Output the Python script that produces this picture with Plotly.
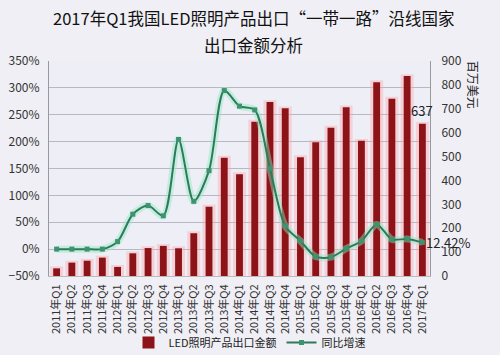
import plotly.graph_objects as go

quarters = ["2011年Q1","2011年Q2","2011年Q3","2011年Q4",
            "2012年Q1","2012年Q2","2012年Q3","2012年Q4",
            "2013年Q1","2013年Q2","2013年Q3","2013年Q4",
            "2014年Q1","2014年Q2","2014年Q3","2014年Q4",
            "2015年Q1","2015年Q2","2015年Q3","2015年Q4",
            "2016年Q1","2016年Q2","2016年Q3","2016年Q4",
            "2017年Q1"]
export_value = [32, 56, 64, 77, 38, 95, 117, 126, 116, 179, 290, 495,
                426, 646, 728, 702, 497, 560, 621, 706, 566, 811, 742, 837, 637]
growth_pct = [0, 0, 0, 0, 14, 65, 81, 62, 204, 89, 146, 295,
              266, 259, 150, 43, 15, -14, -15, 1, 15, 46, 18, 19, 12.42]
title_lines = ["2017年Q1我国LED照明产品出口“一带一路”沿线国家", "出口金额分析"]

FONT = "Noto Sans CJK SC, Noto Sans, sans-serif"
BAR = "#8c1419"
LINE = "#2f7a5c"
MARK = "#3f9270"
BG = "#efeff5"

fig = go.Figure()

# glow behind bars
fig.add_trace(go.Bar(x=quarters, y=[v + 8 for v in export_value], width=0.85,
                     marker=dict(color="rgba(255,165,170,0.4)", line=dict(width=0)),
                     showlegend=False, hoverinfo="skip", yaxis="y"))
fig.add_trace(go.Bar(x=quarters, y=export_value, width=0.45, name="LED照明产品出口金额",
                     marker=dict(color=BAR, line=dict(width=0)), yaxis="y"))

# glow behind line
fig.add_trace(go.Scatter(x=quarters, y=growth_pct, mode="lines", yaxis="y2",
                         line=dict(color="rgba(140,235,190,0.45)", width=7, shape="spline", smoothing=0.8),
                         showlegend=False, hoverinfo="skip"))
fig.add_trace(go.Scatter(x=quarters, y=growth_pct, mode="lines+markers", yaxis="y2",
                         name="同比增速",
                         line=dict(color=LINE, width=2, shape="spline", smoothing=0.8),
                         marker=dict(symbol="square", size=5, color=MARK)))

fig.add_annotation(x=quarters[-1], y=export_value[-1], yref="y", text=str(export_value[-1]),
                   showarrow=False, xanchor="center", yanchor="bottom", yshift=2,
                   font=dict(family=FONT, size=13, color="#222"))
fig.add_annotation(x=quarters[-1], y=growth_pct[-1], yref="y2", text="12.42%",
                   showarrow=False, xanchor="left", yanchor="middle", xshift=2,
                   font=dict(family=FONT, size=13, color="#222"))
fig.add_annotation(xref="paper", yref="paper", x=1.115, y=0.89, text="百万美元",
                   textangle=90, showarrow=False, xanchor="center", yanchor="middle",
                   font=dict(family=FONT, size=12, color="#222"))
for line, yc in zip(title_lines, [1.2, 1.074]):
    fig.add_annotation(xref="paper", yref="paper", x=0.538, y=yc, xanchor="center",
                       yanchor="middle", text=line, showarrow=False,
                       font=dict(family=FONT, size=16.5, color="#111"))

fig.update_layout(
    width=500, height=355,
    margin=dict(l=49, r=70, t=61, b=79),
    paper_bgcolor=BG, plot_bgcolor="#eeeef6",
    barmode="overlay",
    font=dict(family=FONT, size=11, color="#333"),
    xaxis=dict(tickangle=-90, tickfont=dict(size=11, color="#333"), showgrid=False,
               showline=True, linecolor="#bbb", ticks="", range=[-0.5, 24.5], automargin=False,
               ticklabelstandoff=3),
    yaxis=dict(side="right", range=[0, 900], dtick=100, showgrid=False,
               showline=True, linecolor="#999", ticks="", zeroline=False, automargin=False,
               tickfont=dict(size=12, color="#333"), ticklabelstandoff=8),
    yaxis2=dict(side="left", overlaying="y", range=[-50, 350], dtick=50, ticksuffix="%",
                showgrid=True, gridcolor="#b8b8c4", gridwidth=1, zeroline=False,
                showline=True, linecolor="#999", ticks="", automargin=False,
                tickfont=dict(size=12, color="#333"), ticklabelstandoff=6),
    legend=dict(orientation="h", x=0.5, xanchor="center", xref="container",
                y=0.035, yanchor="middle", yref="container",
                font=dict(family=FONT, size=11, color="#222"), bgcolor="rgba(0,0,0,0)"),
)

fig.write_html("out.html", config={"displayModeBar": False},
               post_script="document.body.style.margin='0';document.body.style.background='%s';" % BG)
